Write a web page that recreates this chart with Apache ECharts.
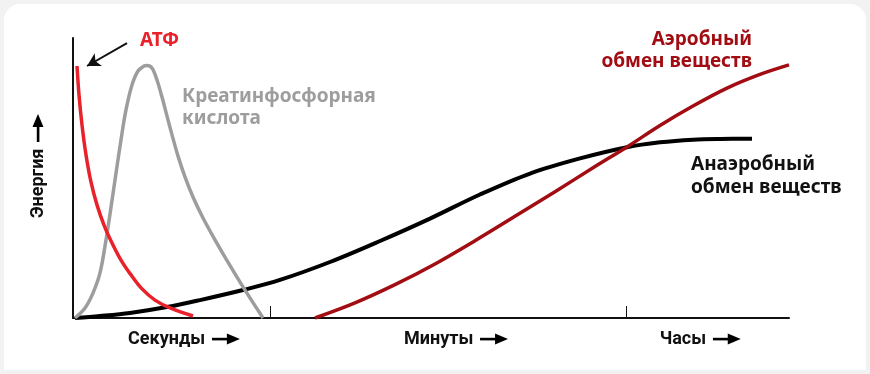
<!DOCTYPE html>
<html><head><meta charset="utf-8">
<style>html,body{margin:0;padding:0;background:#f2f2f2;}#c{width:870px;height:374px;}</style>
<script src="https://cdn.jsdelivr.net/npm/echarts@6/dist/echarts.min.js"></script>
</head><body><div id="c"></div>
<script>
// ---- data (x: 0..100 time scale, y: 0..100 energy) ----
const atpX = [0.56, 0.84, 1.26, 1.82, 2.51, 3.35, 4.33, 5.45, 6.70, 8.10, 9.64, 11.45, 13.55, 16.76];
const atpY = [90.0, 79.6, 68.9, 58.2, 48.6, 40.4, 33.2, 26.8, 20.7, 15.4, 10.4, 6.4, 3.6, 0.7];
const crX = [0.28, 1.68, 2.79, 3.77, 4.61, 5.31, 6.01, 6.70, 7.40, 8.24, 9.08, 9.92, 10.34, 11.03, 11.73, 12.43, 13.13, 13.83, 14.66, 15.64, 16.76, 18.16, 19.83, 21.79, 23.74, 25.14, 26.54];
const crY = [0, 3.6, 8.9, 16.1, 27.9, 39.6, 51.8, 63.6, 74.3, 83.2, 88.2, 90.0, 90.2, 89.3, 85.0, 78.9, 72.1, 65.4, 57.9, 50.4, 43.2, 35.7, 27.9, 19.3, 11.1, 5.5, 0];
const anX = [0.28, 3.77, 7.96, 13.13, 17.74, 23.74, 28.91, 35.89, 42.88, 49.86, 56.84, 63.83, 70.81, 77.37, 81.98, 86.59, 90.36, 94.83];
const anY = [0, 0.7, 1.8, 3.9, 6.4, 10.0, 13.6, 20.0, 27.5, 35.5, 44.1, 51.6, 57.0, 61.0, 62.75, 63.7, 63.95, 64.0];
const aeX = [33.80, 39.39, 44.97, 50.56, 56.15, 61.73, 67.32, 72.91, 77.37, 81.98, 86.59, 91.34, 95.95, 100];
const aeY = [0, 5.4, 11.9, 19.3, 27.6, 36.3, 45.1, 54.1, 61.1, 68.75, 75.7, 82.1, 87.0, 90.4];
const xTickValues = [27.5, 77.2];
const xLabelValues = [15.5, 53.5, 87.6];
const xLabels = ['Секунды', 'Минуты', 'Часы'];
const yName = 'Энергия';
const atpArrowFrom = [7.54, 98.2];
const atpArrowTo = [1.96, 90];
const lblATP = 'АТФ';
const lblCr = ['Креатинфосфорная', 'кислота'];
const lblAe = ['Аэробный', 'обмен веществ'];
const lblAn = ['Анаэробный', 'обмен веществ'];

const zip = (xs, ys) => xs.map((x, i) => [x, ys[i]]);
const arrowSvg = "<svg xmlns='http://www.w3.org/2000/svg' width='28' height='12'><rect x='0' y='4.8' width='18' height='2.6' fill='black'/><polygon points='15,0.5 28,6 15,11.5' fill='black'/></svg>";
const arrowImg = 'data:image/svg+xml;charset=utf-8,' + encodeURIComponent(arrowSvg);
const axisFont = 'Roboto, "DejaVu Sans", sans-serif';
const noteFont = '"Noto Sans", "Open Sans", sans-serif';

const chart = echarts.init(document.getElementById('c'), null, {renderer: 'canvas'});
const richArrow = {
  t: {fontFamily: axisFont, fontWeight: 'bold', fontSize: 18, color: '#111'},
  a: {backgroundColor: {image: arrowImg}, width: 28, height: 12}
};
function note(x, y, text, color, align) {
  return {type: 'text', x: x, y: y, z: 10,
    style: {text: text, fill: color, font: 'bold 19px ' + noteFont, textAlign: align || 'left', textVerticalAlign: 'middle'}};
}
const lineSeries = (name, xs, ys, color, width, z) => ({
  type: 'line', name: name, data: zip(xs, ys), smooth: 0.35,
  symbol: 'none', z: z, lineStyle: {color: color, width: width, cap: 'butt'}
});
const atp = lineSeries('АТФ', atpX, atpY, '#e8212b', 3.5, 5);
atp.markLine = {silent: true, symbol: ['none', 'arrow'], symbolSize: [11, 13], label: {show: false},
  lineStyle: {color: '#111', width: 2, type: 'solid'},
  data: [[{coord: atpArrowFrom}, {coord: atpArrowTo}]]};

chart.setOption({
  animation: false,
  backgroundColor: '#f2f2f2',
  graphic: [
    {type: 'rect', z: -10, shape: {x: 4, y: 4, width: 862, height: 366, r: [16, 16, 0, 0]}, style: {fill: '#ffffff'}},
    note(140, 41, lblATP, '#e8212b'),
    note(182, 97, lblCr[0], '#9d9d9d'),
    note(182, 119, lblCr[1], '#9d9d9d'),
    note(752, 40, lblAe[0], '#a10d12', 'right'),
    note(752, 62, lblAe[1], '#a10d12', 'right'),
    note(691, 165, lblAn[0], '#111111'),
    note(691, 188, lblAn[1], '#111111')
  ],
  grid: {left: 73, top: 38, width: 716, height: 280},
  xAxis: {
    type: 'value', min: 0, max: 100,
    splitLine: {show: false},
    axisLine: {show: true, onZero: false, lineStyle: {color: '#111', width: 2}},
    axisTick: {show: true, inside: true, length: 12, customValues: xTickValues, lineStyle: {color: '#111', width: 1}},
    axisLabel: {
      show: true, margin: 12, customValues: xLabelValues,
      formatter: v => {
        let i = 0, best = 1e9;
        xLabelValues.forEach((lv, k) => { if (Math.abs(lv - v) < best) { best = Math.abs(lv - v); i = k; } });
        return '{t|' + xLabels[i] + '}  {a|}';
      },
      rich: richArrow
    }
  },
  yAxis: {
    type: 'value', min: 0, max: 100,
    splitLine: {show: false},
    axisLine: {show: true, lineStyle: {color: '#111', width: 2}},
    axisTick: {show: false}, axisLabel: {show: false},
    name: '{t|' + yName + '}  {a|}', nameLocation: 'middle', nameRotate: 90, nameGap: 26,
    nameTextStyle: {rich: richArrow, padding: [0, 0, 0, 24]}
  },
  series: [
    lineSeries('Анаэробный', anX, anY, '#000000', 4, 3),
    lineSeries('Аэробный', aeX, aeY, '#a10d12', 3.5, 4),
    lineSeries('Креатинфосфат', crX, crY, '#9d9d9d', 3.5, 4),
    atp
  ]
});
</script></body></html>
